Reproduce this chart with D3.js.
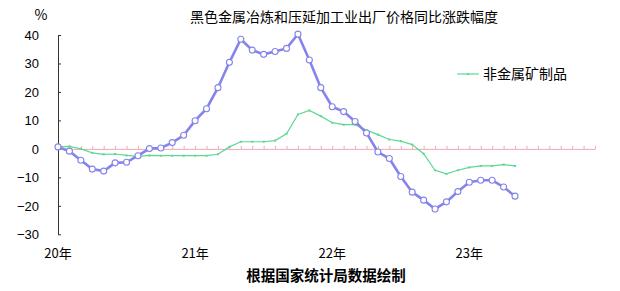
<!DOCTYPE html>
<html>
<head>
<meta charset="utf-8">
<script src="https://cdn.jsdelivr.net/npm/d3@7"></script>
<style>
    body { margin: 0; background: #fff; }
    svg { display: block; font-family: "Noto Sans CJK SC", sans-serif; }
</style>
</head>
<body>
<svg width="620" height="291"></svg>
<script>
// Monthly index from Jan 2020 (0) to May 2023 (40).
const steel = [
    0.7, -0.8, -4.0, -7.1, -7.8, -4.9, -4.7, -2.4, 0.1, 0.3, 2.2, 4.8,
    9.9, 14.1, 21.5, 30.4, 38.5, 34.7, 33.2, 34.2, 35.3, 40.3, 31.2, 21.5,
    14.8, 13.1, 9.6, 5.6, -1.1, -3.4, -9.7, -15.2, -18.0, -21.1, -18.6, -15.0,
    -11.7, -11.0, -11.0, -13.4, -16.6
];
const nonMetal = [
    0.7, 0.9, 0.0, -1.4, -1.9, -1.8, -2.3, -2.6, -2.3, -2.4, -2.4, -2.4,
    -2.4, -2.4, -1.9, 0.7, 2.5, 2.5, 2.5, 2.9, 5.3, 12.1, 13.5, 11.5,
    9.2, 8.5, 8.5, 6.6, 5.0, 3.3, 2.7, 1.5, -1.7, -7.5, -8.8, -7.5,
    -6.5, -6.0, -6.0, -5.5, -6.0
];
const yTicks = [-30, -20, -10, 0, 10, 20, 30, 40];
const yearLabels = ['20年', '21年', '22年', '23年'];
const yearIndex = [0, 12, 24, 36];

const svg = d3.select('svg');

const x = d3.scaleLinear().domain([0, 47]).range([58, 595]);
const y = d3.scaleLinear().domain([-30, 40]).range([234.3, 35]);

// zero line with small month ticks pointing up
const zero = svg.append('g')
    .attr('transform', `translate(0,${y(0)})`)
    .call(d3.axisTop(x).tickValues(d3.range(1, 48)).tickFormat('').tickSize(3).tickSizeOuter(0));
zero.select('.domain').attr('stroke', '#f0a8b8');
zero.selectAll('.tick line').attr('stroke', '#f0a8b8');

// y axis, ticks pointing inward
const yAxis = svg.append('g')
    .attr('transform', `translate(${x(0)},0)`)
    .call(d3.axisLeft(y).tickValues(yTicks).tickSize(-3).tickSizeOuter(0).tickPadding(19));
yAxis.select('.domain').attr('stroke', '#333');
yAxis.selectAll('.tick line').attr('stroke', '#333');
yAxis.selectAll('.tick text')
    .attr('fill', '#000')
    .style('font-size', '13px')
    .style('font-family', '"Liberation Sans", sans-serif');

// year labels
svg.append('g').selectAll('text')
    .data(yearLabels)
    .enter()
    .append('text')
    .attr('x', (d, i) => x(yearIndex[i]))
    .attr('y', 258)
    .attr('text-anchor', 'middle')
    .style('font-size', '13px')
    .text(d => d);

const line = d3.line()
    .x((d, i) => x(i))
    .y(d => y(d));

// non-metal series
svg.append('path')
    .datum(nonMetal)
    .attr('fill', 'none')
    .attr('stroke', '#5cd890')
    .attr('stroke-width', 1.2)
    .attr('d', line);
svg.append('g').selectAll('rect')
    .data(nonMetal)
    .enter()
    .append('rect')
    .attr('x', (d, i) => x(i) - 1)
    .attr('y', d => y(d) - 1)
    .attr('width', 2)
    .attr('height', 2)
    .attr('fill', '#5cd890');

// steel series
svg.append('path')
    .datum(steel)
    .attr('fill', 'none')
    .attr('stroke', '#8484ec')
    .attr('stroke-width', 2.6)
    .attr('d', line);
svg.append('g').selectAll('circle')
    .data(steel)
    .enter()
    .append('circle')
    .attr('cx', (d, i) => x(i))
    .attr('cy', d => y(d))
    .attr('r', 3)
    .attr('fill', '#fff')
    .attr('stroke', '#8484ec')
    .attr('stroke-width', 1.1);

// titles
svg.append('text')
    .attr('x', 344)
    .attr('y', 22)
    .attr('text-anchor', 'middle')
    .style('font-size', '14px')
    .text('黑色金属冶炼和压延加工业出厂价格同比涨跌幅度');

svg.append('text')
    .attr('x', 41)
    .attr('y', 20)
    .attr('text-anchor', 'middle')
    .style('font-size', '14px')
    .text('%');

svg.append('text')
    .attr('x', 326)
    .attr('y', 281)
    .attr('text-anchor', 'middle')
    .style('font-size', '14.5px')
    .style('font-weight', 'bold')
    .text('根据国家统计局数据绘制');

// legend
const legend = svg.append('g').attr('transform', 'translate(457,74)');
legend.append('line')
    .attr('x1', 0).attr('x2', 22)
    .attr('stroke', '#5cd890')
    .attr('stroke-width', 1.2);
legend.append('rect')
    .attr('x', 10).attr('y', -1)
    .attr('width', 2).attr('height', 2)
    .attr('fill', '#5cd890');
legend.append('text')
    .attr('x', 26)
    .attr('y', 5)
    .style('font-size', '14px')
    .text('非金属矿制品');
</script>
</body>
</html>
